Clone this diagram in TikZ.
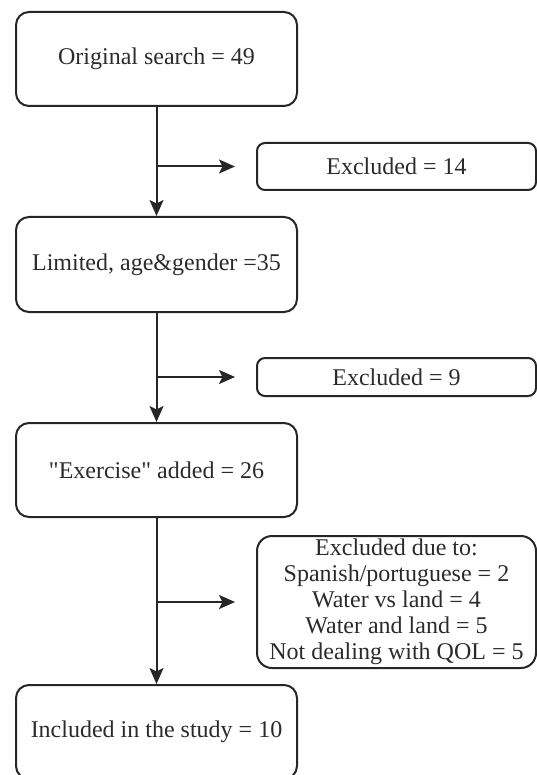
\documentclass[tikz,border=0pt]{standalone}
\usepackage{fontspec}
\setmainfont{Liberation Serif}
\usepackage{xcolor}
\usetikzlibrary{arrows.meta,calc,positioning}
\definecolor{LineGray}{HTML}{262626}
\definecolor{TextGray}{HTML}{2B2B2B}

\begin{document}
\begin{tikzpicture}[
    x=1pt,y=-1pt,
    font=\fontsize{24}{26}\selectfont,
    >={Stealth[length=16pt,width=14pt,inset=3.5pt]},
    flow/.style={->,line width=2pt,draw=LineGray},
    stage/.style={draw=LineGray,line width=2pt,rounded corners=13pt,
      minimum width=281pt,minimum height=94pt,align=center,text=TextGray,
      inner sep=0pt},
    excl/.style={draw=LineGray,line width=2pt,rounded corners=8pt,
      minimum width=279pt,align=center,text=TextGray,inner sep=0pt}
  ]
    \useasboundingbox (0,0) rectangle (537,775);

    % Main path.
    \node[stage] (search) at (156.5,59) {Original search = 49};
    \node[stage,minimum height=95pt] (limited) at (156.5,264.5)
      {Limited, age\&gender =35};
    \node[stage] (exercise) at (156.5,470)
      {\textquotedbl Exercise\textquotedbl{} added = 26};
    \node[stage] (included) at (156.5,732) {Included in the study = 10};

    % Exclusions.
    \node[excl,minimum height=47pt] (excl1) at (396.5,166.5)
      {Excluded = 14};
    \node[excl,minimum height=38pt] (excl2) at (396.5,377)
      {Excluded = 9};
    \node[excl,minimum height=132pt,rounded corners=15pt] (excl3) at (396.5,602)
      {Excluded due to:\\Spanish/portuguese = 2\\Water vs land = 4\\
       Water and land = 5\\Not dealing with QOL = 5};

    \draw[flow] (search) -- (limited);
    \draw[flow] (limited) -- (exercise);
    \draw[flow] (exercise) -- (included);

    \coordinate (fork1) at (search.south |- excl1.west);
    \coordinate (fork2) at (search.south |- excl2.west);
    \coordinate (fork3) at (search.south |- excl3.west);
    \coordinate (tip1) at ($(excl1.west)+(-21,0)$);
    \coordinate (tip2) at ($(excl2.west)+(-21,0)$);
    \coordinate (tip3) at ($(excl3.west)+(-21,0)$);
    \draw[flow] (fork1) -- (tip1);
    \draw[flow] (fork2) -- (tip2);
    \draw[flow] (fork3) -- (tip3);
  \end{tikzpicture}
\end{document}
